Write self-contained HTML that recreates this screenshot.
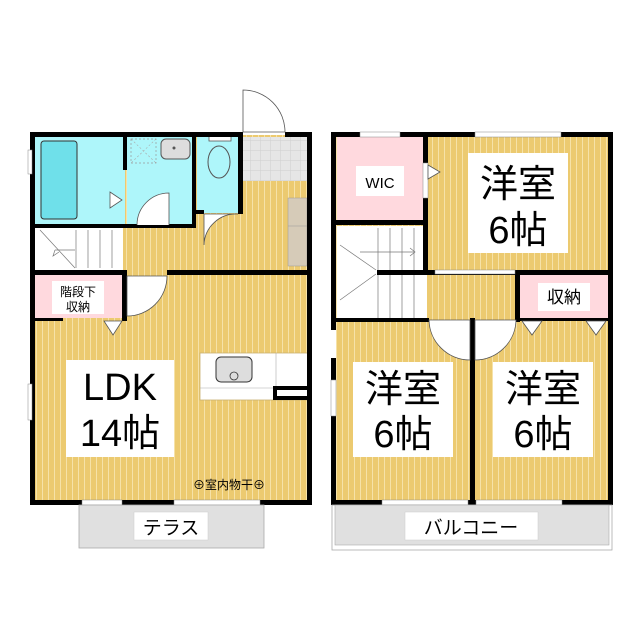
<!DOCTYPE html>
<html><head><meta charset="utf-8"><style>
html,body{margin:0;padding:0;background:#fff;}
svg{display:block;}
text{font-family:"Liberation Sans","Noto Sans CJK JP",sans-serif;fill:#000;}
</style></head><body>
<svg width="640" height="640" viewBox="0 0 640 640" xmlns="http://www.w3.org/2000/svg">
<defs>
<pattern id="fl" width="6" height="10" patternUnits="userSpaceOnUse">
<rect width="6" height="10" fill="#ecca70"/>
<rect x="0" width="1" height="10" fill="#f6e2a8"/>
</pattern>
<pattern id="tile" width="10" height="10" patternUnits="userSpaceOnUse">
<rect width="10" height="10" fill="#e6e6e6"/>
<path d="M0 0H10M0 0V10" stroke="#cfcfcf" stroke-width="1"/>
</pattern>
</defs>

<!-- ===== LEFT (1F) ===== -->
<rect x="33" y="135" width="277" height="367" fill="url(#fl)"/>
<rect x="35" y="137" width="90" height="88" fill="#aef6fa"/>
<rect x="41" y="141" width="36" height="78" rx="3" fill="#6fe0ea" stroke="#333" stroke-width="1"/>
<rect x="127" y="137" width="66" height="88" fill="#aef6fa"/>
<rect x="197" y="137" width="43" height="76" fill="#aef6fa"/>
<rect x="243" y="137" width="64" height="44" fill="url(#tile)"/>
<rect x="288" y="198" width="19" height="68" fill="#d6cbb8" stroke="#999" stroke-width="0.5"/>
<line x1="288" y1="226" x2="307" y2="226" stroke="#999" stroke-width="0.5"/>
<rect x="131" y="139" width="25" height="24" fill="none" stroke="#999" stroke-width="0.7" stroke-dasharray="2,2"/>
<path d="M131 139L156 163M156 139L131 163" stroke="#aaa" stroke-width="0.6" stroke-dasharray="2,2"/>
<rect x="161" y="139" width="29" height="20" rx="5" fill="#ddd" stroke="#555" stroke-width="1"/>
<circle cx="174" cy="148" r="1.5" fill="#555"/>
<rect x="209" y="133" width="22" height="8" fill="#fff" stroke="#555" stroke-width="0.8"/>
<ellipse cx="219" cy="162" rx="11" ry="16" fill="#aef6fa" stroke="#555" stroke-width="1"/>
<rect x="35" y="228" width="88" height="42" fill="#fff"/>
<g stroke="#777" stroke-width="0.7" fill="none">
<line x1="76" y1="230" x2="76" y2="268"/><line x1="88" y1="230" x2="88" y2="268"/>
<line x1="100" y1="230" x2="100" y2="268"/><line x1="112" y1="230" x2="112" y2="268"/>
<line x1="40" y1="230" x2="75" y2="268"/><line x1="55" y1="250" x2="75" y2="250"/>
<path d="M55 250l-2 6 6-4"/>
</g>
<rect x="35" y="275" width="88" height="43" fill="#ffd9de"/>
<rect x="52" y="281" width="52" height="33" fill="#fff"/>
<text x="78" y="296" font-size="12" text-anchor="middle">階段下</text>
<text x="78" y="311" font-size="12" text-anchor="middle">収納</text>
<!-- kitchen -->
<rect x="200" y="353" width="108" height="47" fill="#fff" stroke="#c8b070" stroke-width="0.8"/>
<line x1="200" y1="388" x2="273" y2="388" stroke="#aaa" stroke-width="0.6"/>
<line x1="276" y1="353" x2="276" y2="386" stroke="#aaa" stroke-width="0.6"/>
<rect x="216" y="357" width="36" height="25" rx="5" fill="#ddd" stroke="#333" stroke-width="1"/>
<circle cx="234" cy="376" r="4" fill="#ddd" stroke="#333" stroke-width="0.8"/>
<g fill="#000">
<rect x="30" y="132" width="213" height="5"/>
<rect x="285" y="132" width="27" height="5"/>
<rect x="30" y="132" width="5" height="373"/>
<rect x="307" y="132" width="5" height="373"/>
<rect x="30" y="500" width="282" height="5"/>
<rect x="35" y="224" width="158" height="4"/>
<rect x="123" y="137" width="4" height="33"/>
<rect x="192" y="137" width="4" height="91"/>
<rect x="238" y="137" width="5" height="77"/>
<rect x="196" y="210" width="8" height="4"/>
<rect x="30" y="270" width="97" height="5"/>
<rect x="167" y="270" width="145" height="5"/>
<rect x="122" y="275" width="5" height="46"/>
<rect x="35" y="318" width="28" height="3"/>
<rect x="273" y="386" width="35" height="14"/>
</g>
<rect x="277" y="390" width="30" height="6" fill="#fff"/>
<g fill="#fff" stroke="#555" stroke-width="0.8">
<path d="M243 132V90A42 42 0 0 1 285 132Z"/>
<path d="M137 225A32 32 0 0 1 169 193V225"/>
<path d="M204 214V245A32 32 0 0 1 238 214Z"/>
<path d="M127 276H167A40 40 0 0 1 127 316Z"/>
<path d="M104 321h18l-9 14z"/>
<path d="M110 192l12 8-12 8z"/>
</g>
<rect x="28" y="150" width="4" height="24" fill="#fff" stroke="#888" stroke-width="0.5"/>
<rect x="28" y="384" width="4" height="36" fill="#fff" stroke="#888" stroke-width="0.5"/>
<rect x="66" y="360" width="108" height="97" fill="#fff"/>
<text x="120" y="400" font-size="38" text-anchor="middle">LDK</text>
<text x="120" y="446" font-size="38" text-anchor="middle">14帖</text>
<text x="229" y="489" font-size="12" text-anchor="middle">⊕室内物干⊕</text>
<g fill="#fff" stroke="#888" stroke-width="0.5">
<rect x="82" y="500" width="40" height="5"/><rect x="174" y="500" width="86" height="5"/>
</g>
<rect x="79" y="505" width="185" height="43" fill="#e0e0e0" stroke="#aaa" stroke-width="0.8"/>
<rect x="134" y="512" width="74" height="28" fill="#fff" stroke="#ccc" stroke-width="0.5"/>
<text x="171" y="534" font-size="19" text-anchor="middle">テラス</text>

<!-- ===== RIGHT (2F) ===== -->
<rect x="333" y="135" width="277" height="367" fill="url(#fl)"/>
<rect x="337" y="137" width="86" height="85" fill="#ffd9de"/>
<rect x="356" y="166" width="48" height="30" fill="#fff"/>
<text x="380" y="188" font-size="15" text-anchor="middle">WIC</text>
<rect x="337" y="226" width="90" height="94" fill="#fff"/>
<g stroke="#777" stroke-width="0.7" fill="none">
<line x1="378" y1="228" x2="378" y2="318"/><line x1="390" y1="228" x2="390" y2="270"/>
<line x1="402" y1="228" x2="402" y2="270"/><line x1="414" y1="228" x2="414" y2="270"/>
<line x1="390" y1="274" x2="390" y2="318"/><line x1="402" y1="274" x2="402" y2="318"/><line x1="414" y1="274" x2="414" y2="318"/>
<line x1="340" y1="245" x2="376" y2="270"/><line x1="340" y1="300" x2="376" y2="274"/>
<path d="M360 252H415M410 248l5 4-5 4"/>
</g>
<rect x="520" y="275" width="88" height="43" fill="#ffd9de"/>
<rect x="538" y="283" width="52" height="28" fill="#fff"/>
<text x="564" y="303" font-size="17" text-anchor="middle">収納</text>
<g fill="#000">
<rect x="331" y="132" width="282" height="5"/>
<rect x="331" y="132" width="5" height="373"/>
<rect x="608" y="132" width="5" height="373"/>
<rect x="331" y="500" width="282" height="5"/>
<rect x="423" y="137" width="5" height="138"/>
<rect x="336" y="220" width="87" height="5"/>
<rect x="377" y="270" width="236" height="5"/>
<rect x="515" y="270" width="5" height="52"/>
<rect x="336" y="318" width="93" height="4"/>
<rect x="470" y="318" width="5" height="187"/>
<rect x="520" y="318" width="88" height="3"/>
</g>
<g fill="#fff" stroke="#888" stroke-width="0.5">
<rect x="360" y="132" width="40" height="5"/><rect x="475" y="132" width="86" height="5"/>
<rect x="331" y="330" width="5" height="28" stroke="none"/>
<rect x="331" y="380" width="5" height="36"/>
<rect x="382" y="500" width="86" height="5"/><rect x="476" y="500" width="86" height="5"/>
<rect x="435" y="270" width="80" height="4"/>
<rect x="423" y="163" width="5" height="35"/>
</g>
<g fill="#fff" stroke="#555" stroke-width="0.8">
<path d="M428 165l12 7-12 7z"/>
<path d="M429 320H470V360A41 41 0 0 1 429 320Z"/>
<path d="M475 320H516A41 41 0 0 1 475 360Z"/>
<path d="M522 321h20l-10 14z"/>
<path d="M586 321h20l-10 14z"/>
</g>
<rect x="468" y="153" width="100" height="100" fill="#fff"/>
<text x="518" y="197" font-size="38" text-anchor="middle">洋室</text>
<text x="518" y="243" font-size="38" text-anchor="middle">6帖</text>
<rect x="353" y="362" width="100" height="95" fill="#fff"/>
<text x="403" y="402" font-size="38" text-anchor="middle">洋室</text>
<text x="403" y="447" font-size="38" text-anchor="middle">6帖</text>
<rect x="493" y="362" width="100" height="95" fill="#fff"/>
<text x="543" y="402" font-size="38" text-anchor="middle">洋室</text>
<text x="543" y="447" font-size="38" text-anchor="middle">6帖</text>
<rect x="332" y="505" width="280" height="45" fill="#fff" stroke="#aaa" stroke-width="0.8"/>
<rect x="335" y="505" width="274" height="40" fill="#e0e0e0" stroke="#aaa" stroke-width="0.6"/>
<rect x="405" y="512" width="133" height="28" fill="#fff" stroke="#ccc" stroke-width="0.5"/>
<text x="471" y="534" font-size="19" text-anchor="middle">バルコニー</text>
</svg>
</body></html>
